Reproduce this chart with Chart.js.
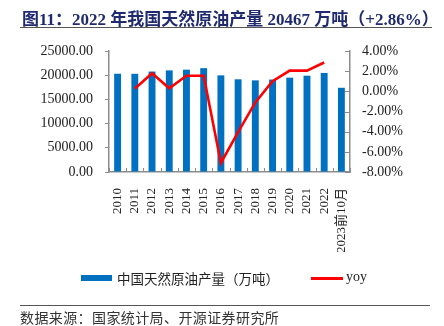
<!DOCTYPE html>
<html>
<head>
<meta charset="utf-8">
<script src="https://cdn.jsdelivr.net/npm/chart.js@4"></script>
<style>
  html, body { margin: 0; padding: 0; background: #fff; }
  #wrap { position: relative; width: 444px; height: 326px; overflow: hidden; }
  #chart { position: absolute; left: 0; top: 0; }
  .titulo {
    position: absolute; left: 20px; top: 5px; width: 410px; height: 22px;
    font: bold 17px "Liberation Serif", "Noto Sans CJK SC", serif;
    color: #202a6e; white-space: nowrap; padding-left: 2px;
    border-bottom: 1.5px solid #555;
  }
  .fonte {
    position: absolute; left: 20px; top: 305px; width: 410px;
    border-top: 1.5px solid #555; padding-top: 1px;
    font: 14px "Noto Sans CJK SC", sans-serif; letter-spacing: 0.4px;
    color: #333; white-space: nowrap;
  }
  .leg { position: absolute; white-space: nowrap; color: #222; }
  .leg-barra { left: 81px; top: 275px; width: 31px; height: 6px; background: #0070c0; }
  .leg-txt1 { left: 117px; top: 269px; font: 13.5px/18px "Noto Sans CJK SC", sans-serif; }
  .leg-linha { left: 311px; top: 277px; width: 32px; height: 2.5px; background: #ff0000; }
  .leg-txt2 { left: 346px; top: 268px; font: 14px/18px "Liberation Serif", serif; }
</style>
</head>
<body>
<div id="wrap">
  <canvas id="chart" width="444" height="326"></canvas>
  <div class="titulo">图11：2022 年我国天然原油产量 20467 万吨（+2.86%）</div>
  <div class="leg leg-barra"></div>
  <div class="leg leg-txt1" id="legProd"></div>
  <div class="leg leg-linha"></div>
  <div class="leg leg-txt2" id="legYoy"></div>
  <div class="fonte">数据来源：国家统计局、开源证券研究所</div>
</div>
<script>
// categorias e séries
const anos = ['2010', '2011', '2012', '2013', '2014', '2015', '2016', '2017', '2018', '2019', '2020', '2021', '2022', '2023前10月'];
const producao = [20301, 20288, 20748, 20992, 21143, 21456, 19969, 19151, 18932, 19101, 19492, 19898, 20467, 17400];
const yoy = [null, 0.25, 1.8, 0.3, 1.55, 1.55, -7.1, -4.05, -1.1, 1.0, 2.05, 2.05, 2.86, null];
const ticksEsq = [0, 5000, 10000, 15000, 20000, 25000];
const ticksDir = [-8, -6, -4, -2, 0, 2, 4];
const nomeProd = '中国天然原油产量（万吨）';
const nomeYoy = 'yoy';

const serif = '"Liberation Serif", "Noto Sans CJK SC", serif';
const corEixo = '#8c8c8c';

document.getElementById('legProd').textContent = nomeProd;
document.getElementById('legYoy').textContent = nomeYoy;

// marcas internas nos eixos direito e inferior
const marcasInternas = {
  id: 'marcasInternas',
  afterDatasetsDraw(chart) {
    const ctx = chart.ctx;
    const x = chart.scales.x, y1 = chart.scales.y1;
    ctx.save();
    ctx.strokeStyle = corEixo;
    ctx.lineWidth = 1;
    ctx.beginPath();
    for (const t of y1.ticks) {
      const py = Math.round(y1.getPixelForValue(t.value)) + 0.5;
      ctx.moveTo(y1.left - 5, py);
      ctx.lineTo(y1.left, py);
    }
    const passo = (x.right - x.left) / anos.length;
    for (let i = 0; i <= anos.length; i++) {
      const px = Math.round(x.left + i * passo) + 0.5;
      ctx.moveTo(px, x.top - 4);
      ctx.lineTo(px, x.top);
    }
    ctx.stroke();
    ctx.restore();
  }
};

new Chart(document.getElementById('chart'), {
  type: 'bar',
  data: {
    labels: anos,
    datasets: [{
      type: 'line',
      label: nomeYoy,
      data: yoy,
      yAxisID: 'y1',
      borderColor: '#ff0000',
      backgroundColor: '#ff0000',
      borderWidth: 2.6,
      pointRadius: 0,
      tension: 0,
      spanGaps: false,
      order: 0
    }, {
      type: 'bar',
      label: nomeProd,
      data: producao,
      yAxisID: 'y',
      backgroundColor: '#0070c0',
      categoryPercentage: 1,
      barPercentage: 0.4,
      order: 1
    }]
  },
  options: {
    responsive: false,
    animation: false,
    layout: { padding: { top: 51, left: 0, right: 0, bottom: 74 } },
    plugins: {
      tooltip: { enabled: false },
      legend: { display: false }
    },
    scales: {
      x: {
        offset: true,
        grid: { display: false },
        border: { display: true, color: corEixo, width: 1.5 },
        ticks: {
          autoSkip: false,
          minRotation: 90,
          maxRotation: 90,
          padding: 8,
          color: '#222',
          font: { size: 13, family: serif }
        },
        afterFit(scale) { scale.height = 80; }
      },
      y: {
        position: 'left',
        min: 0,
        max: 25000,
        afterBuildTicks(scale) { scale.ticks = ticksEsq.map(v => ({ value: v })); },
        grid: { drawOnChartArea: false, drawTicks: true, tickLength: 4, color: corEixo },
        border: { display: true, color: corEixo, width: 1.5 },
        ticks: {
          autoSkip: false,
          padding: 12,
          color: '#222',
          font: { size: 14, family: serif },
          callback: v => Number(v).toFixed(2)
        },
        afterFit(scale) { scale.width = 109; }
      },
      y1: {
        position: 'right',
        min: -8,
        max: 4,
        afterBuildTicks(scale) { scale.ticks = ticksDir.map(v => ({ value: v })); },
        grid: { drawOnChartArea: false, drawTicks: false },
        border: { display: true, color: corEixo, width: 1.5 },
        ticks: {
          autoSkip: false,
          padding: 12,
          color: '#222',
          font: { size: 14, family: serif },
          callback: v => Number(v).toFixed(2) + '%'
        },
        afterFit(scale) { scale.width = 94; }
      }
    }
  },
  plugins: [marcasInternas]
});
</script>
</body>
</html>
